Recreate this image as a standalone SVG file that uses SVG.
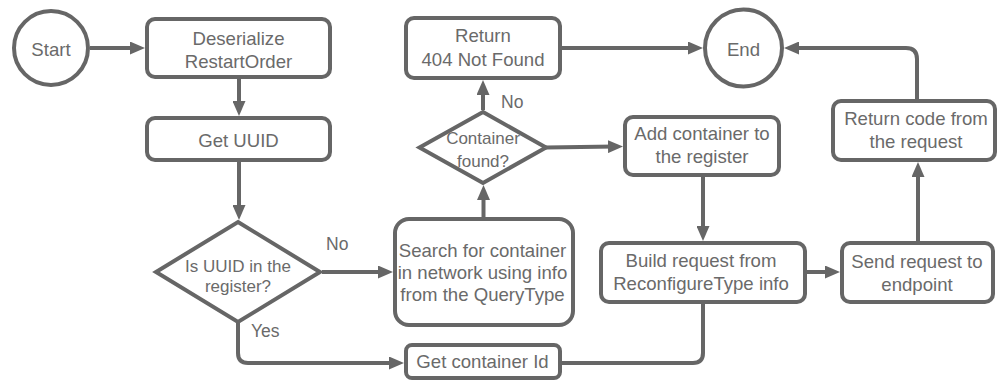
<svg xmlns="http://www.w3.org/2000/svg" width="997" height="381" viewBox="0 0 997 381">
<defs>
<style>
.n{fill:#fff;stroke:#666;stroke-width:4}
.t{font-family:"Liberation Sans",Arial,sans-serif;font-size:18.6px;fill:#6a6a6a;text-anchor:middle}
.d{font-size:17px}
.l{font-family:"Liberation Sans",Arial,sans-serif;font-size:17.5px;fill:#6a6a6a}
.c{fill:none;stroke:#666;stroke-width:4}
</style>
<marker id="ah" viewBox="0 0 15 13" refX="7" refY="6.5" markerWidth="15" markerHeight="13" markerUnits="userSpaceOnUse" orient="auto">
<path d="M0,0 L15,6.5 L0,13 z" fill="#666"/>
</marker>
</defs>
<rect width="997" height="381" fill="#fff"/>
<g id="connectors">
<path class="c" d="M90,48 H137" marker-end="url(#ah)"/>
<path class="c" d="M239,79 V108" marker-end="url(#ah)"/>
<path class="c" d="M239,162 V212" marker-end="url(#ah)"/>
<path class="c" d="M322,272 H385" marker-end="url(#ah)"/>
<path class="c" d="M238,322 V353 Q238,363 248,363 H396" marker-end="url(#ah)"/>
<path class="c" d="M483.5,217 V193" marker-end="url(#ah)"/>
<path class="c" d="M483,110 V88" marker-end="url(#ah)"/>
<path class="c" d="M546,147.5 L615,146.5" marker-end="url(#ah)"/>
<path class="c" d="M562,48 H695" marker-end="url(#ah)"/>
<path class="c" d="M703,177 V233" marker-end="url(#ah)"/>
<path class="c" d="M562,363 H693 Q703,363 703,353 V304"/>
<path class="c" d="M807,272 H832" marker-end="url(#ah)"/>
<path class="c" d="M918,241 V170" marker-end="url(#ah)"/>
<path class="c" d="M917,99 V59 Q917,48 906,48 H792" marker-end="url(#ah)"/>
</g>
<g id="start"><circle class="n" cx="51" cy="48" r="37"/><text class="t" x="51" y="56">Start</text></g>
<g id="deserialize"><rect class="n" x="147" y="19" width="183" height="58" rx="8"/><text class="t" x="238.5" y="45">Deserialize</text><text class="t" x="238.5" y="67.5">RestartOrder</text></g>
<g id="getuuid"><rect class="n" x="147" y="118" width="183" height="42" rx="8"/><text class="t" x="238.5" y="146.5">Get UUID</text></g>
<g id="uuidcheck"><polygon class="n" points="238,222 320,272 238,322 156,272"/><text class="t d" x="238" y="271.5">Is UUID in the</text><text class="t d" x="238" y="292">register?</text></g>
<g id="return404"><rect class="n" x="406" y="18" width="154" height="60" rx="8"/><text class="t" x="483" y="41.5">Return</text><text class="t" x="483" y="65.5">404 Not Found</text></g>
<g id="containerfound"><polygon class="n" points="483,112 546,147.5 483,183 419.5,147.5"/><text class="t d" x="483" y="144">Container</text><text class="t d" x="483" y="166.5">found?</text></g>
<g id="search"><rect class="n" x="395" y="219" width="178" height="106" rx="14"/><text class="t" x="482.5" y="257">Search for container</text><text class="t" x="482.5" y="279">in network using info</text><text class="t" x="482.5" y="301">from the QueryType</text></g>
<g id="getcontainerid"><rect class="n" x="406" y="345" width="154" height="33" rx="6"/><text class="t" x="482.5" y="368">Get container Id</text></g>
<g id="end"><circle class="n" cx="743.5" cy="48" r="38.5"/><text class="t" x="743.5" y="56">End</text></g>
<g id="addcontainer"><rect class="n" x="625" y="117" width="154" height="58" rx="8"/><text class="t" x="702" y="140">Add container to</text><text class="t" x="702" y="163">the register</text></g>
<g id="build"><rect class="n" x="601" y="243" width="204" height="59" rx="8"/><text class="t" x="701" y="267">Build request from</text><text class="t" x="701" y="290">ReconfigureType info</text></g>
<g id="send"><rect class="n" x="842" y="243" width="151" height="59" rx="8"/><text class="t" x="917" y="268">Send request to</text><text class="t" x="917" y="290.5">endpoint</text></g>
<g id="returncode"><rect class="n" x="833" y="101" width="162" height="59" rx="8"/><text class="t" x="916" y="125">Return code from</text><text class="t" x="916" y="148">the request</text></g>
<g id="labels">
<text class="l" x="326" y="250">No</text>
<text class="l" x="251" y="336.5">Yes</text>
<text class="l" x="501" y="108">No</text>
</g>
</svg>
